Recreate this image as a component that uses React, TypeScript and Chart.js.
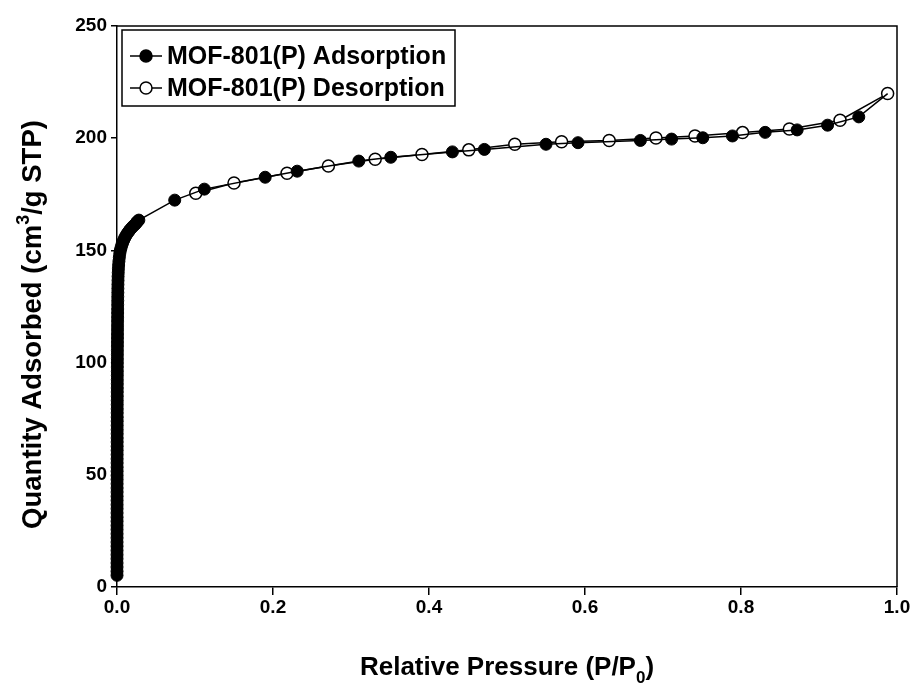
import React, { useEffect, useRef } from "react";
import { Chart, registerables } from "chart.js";

Chart.register(...registerables);

// ---- Data ----
const adsorptionX = [
  0.00002, 0.00003, 0.00003, 0.00004, 0.00004, 0.00005, 0.00005, 0.00006, 0.00006, 0.00007,
  0.00007, 0.00008, 0.00008, 0.00009, 0.0001, 0.0001, 0.00011, 0.00011, 0.00012, 0.00012,
  0.00013, 0.00013, 0.00014, 0.00015, 0.00015, 0.00016, 0.00017, 0.00017, 0.00018, 0.00019,
  0.0002, 0.00021, 0.00021, 0.00022, 0.00023, 0.00024, 0.00025, 0.00026, 0.00027, 0.00028,
  0.00029, 0.0003, 0.00031, 0.00033, 0.00034, 0.00035, 0.00037, 0.00038, 0.0004, 0.00042,
  0.00044, 0.00046, 0.00048, 0.0005, 0.00052, 0.00055, 0.00058, 0.00061, 0.00064, 0.00067,
  0.0007, 0.00074, 0.00078, 0.00082, 0.00086, 0.0009, 0.00095, 0.001, 0.00106, 0.00112,
  0.0012, 0.0013, 0.0014, 0.0016, 0.0018, 0.0021, 0.0025, 0.003, 0.0036, 0.0043,
  0.0052, 0.0062, 0.0073, 0.0085, 0.0098, 0.0112, 0.0127, 0.0143, 0.016, 0.0178,
  0.0197, 0.0217, 0.0238, 0.025, 0.0265, 0.028,
  0.074, 0.112, 0.19, 0.231, 0.31, 0.351, 0.43, 0.471, 0.55, 0.591,
  0.671, 0.711, 0.751, 0.789, 0.831, 0.872, 0.911, 0.951, 0.988,
];
const adsorptionY = [
  5.2, 7.0, 8.9, 10.7, 12.6, 14.4, 16.3, 18.2, 20.0, 21.9,
  23.7, 25.6, 27.4, 29.3, 31.1, 33.0, 34.9, 36.7, 38.6, 40.4,
  42.3, 44.1, 46.0, 47.9, 49.7, 51.6, 53.4, 55.3, 57.1, 59.0,
  60.9, 62.7, 64.6, 66.4, 68.3, 70.1, 72.0, 73.9, 75.7, 77.6,
  79.4, 81.3, 83.1, 85.0, 86.9, 88.7, 90.6, 92.4, 94.3, 96.1,
  98.0, 99.9, 101.7, 103.6, 105.4, 107.3, 109.1, 111.0, 112.8, 114.7,
  116.5, 118.4, 120.2, 122.1, 123.9, 125.8, 127.6, 129.4, 131.2, 133.0,
  134.8, 136.6, 138.4, 140.1, 141.8, 143.5, 145.2, 146.9, 148.6, 150.0,
  151.2, 152.4, 153.5, 154.5, 155.5, 156.4, 157.3, 158.1, 158.9, 159.7,
  160.4, 161.1, 161.8, 162.4, 163.0, 163.5,
  172.4, 177.3, 182.6, 185.3, 189.8, 191.5, 193.9, 195.0, 197.3, 198.0,
  199.0, 199.6, 200.2, 201.0, 202.6, 203.7, 205.8, 209.5, 219.9,
];
const desorptionX = [
  0.988, 0.927, 0.862, 0.802, 0.741, 0.691, 0.631, 0.57, 0.51, 0.451,
  0.391, 0.331, 0.271, 0.218, 0.15, 0.101,
];
const desorptionY = [
  219.9, 208.0, 204.1, 202.5, 201.0, 200.1, 199.0, 198.4, 197.3, 194.8,
  192.7, 190.6, 187.6, 184.4, 180.0, 175.5,
];
const seriesNames = ["MOF-801(P) Adsorption", "MOF-801(P) Desorption"];
const xTickValues = [0, 0.2, 0.4, 0.6, 0.8, 1.0];
const yTickValues = [0, 50, 100, 150, 200, 250];
const xTitleParts: [string, string][] = [["Relative Pressure (P/P", "n"], ["0", "sub"], [")", "n"]];
const yTitleParts: [string, string][] = [["Quantity Adsorbed (cm", "n"], ["3", "sup"], ["/g STP)", "n"]];

const FONT = '"Liberation Sans", Arial, sans-serif';

function drawRich(ctx: CanvasRenderingContext2D, parts: [string, string][], cx: number, cy: number, rotate: boolean, size: number) {
  const small = Math.round(size * 0.65);
  ctx.save();
  ctx.translate(cx, cy);
  if (rotate) ctx.rotate(-Math.PI / 2);
  ctx.fillStyle = "#000";
  ctx.textBaseline = "alphabetic";
  ctx.textAlign = "left";
  const widths = parts.map(([t, k]) => {
    ctx.font = `bold ${k === "n" ? size : small}px ${FONT}`;
    return ctx.measureText(t).width;
  });
  const total = widths.reduce((a, b) => a + b, 0);
  let x = -total / 2;
  const base = size * 0.36;
  parts.forEach(([t, k], i) => {
    ctx.font = `bold ${k === "n" ? size : small}px ${FONT}`;
    let dy = 0;
    if (k === "sup") dy = -size * 0.42;
    if (k === "sub") dy = size * 0.28;
    ctx.fillText(t, x, base + dy);
    x += widths[i];
  });
  ctx.restore();
}

const decorPlugin = {
  id: "decor",
  afterDraw(chart: any) {
    const ctx: CanvasRenderingContext2D = chart.ctx;
    const a = chart.chartArea;
    ctx.save();
    // top & right frame
    ctx.strokeStyle = "#000";
    ctx.lineWidth = 1.5;
    ctx.beginPath();
    ctx.moveTo(a.left, a.top);
    ctx.lineTo(a.right, a.top);
    ctx.lineTo(a.right, a.bottom);
    ctx.stroke();

    // legend
    const lx = a.left + 5;
    const ly = a.top + 4;
    const lw = 333;
    const lh = 76;
    ctx.fillStyle = "#fff";
    ctx.fillRect(lx, ly, lw, lh);
    ctx.strokeRect(lx, ly, lw, lh);
    const rows = [ly + 26, ly + 58];
    rows.forEach((ry, i) => {
      ctx.beginPath();
      ctx.lineWidth = 1.5;
      ctx.moveTo(lx + 8, ry);
      ctx.lineTo(lx + 40, ry);
      ctx.stroke();
      ctx.beginPath();
      ctx.arc(lx + 24, ry, 6, 0, Math.PI * 2);
      ctx.fillStyle = i === 0 ? "#000" : "#fff";
      ctx.fill();
      ctx.stroke();
      ctx.fillStyle = "#000";
      ctx.font = `bold 25px ${FONT}`;
      ctx.textAlign = "left";
      ctx.textBaseline = "middle";
      ctx.fillText(seriesNames[i], lx + 45, ry + 1);
    });
    ctx.restore();

    // axis titles
    drawRich(ctx, xTitleParts, (a.left + a.right) / 2, 666, false, 26);
    drawRich(ctx, yTitleParts, 31, (a.top + a.bottom) / 2 + 18, true, 27.5);
  },
};

export default function App() {
  const ref = useRef<HTMLCanvasElement | null>(null);
  useEffect(() => {
    if (!ref.current) return;
    const lastAds = adsorptionX.length - 1;
    const chart = new Chart(ref.current, {
      type: "scatter",
      data: {
        datasets: [
          {
            label: seriesNames[0],
            data: adsorptionX.map((x, i) => ({ x, y: adsorptionY[i] })),
            showLine: true,
            borderColor: "#000",
            borderWidth: 1.5,
            backgroundColor: "#000",
            pointBackgroundColor: "#000",
            pointBorderColor: "#000",
            pointBorderWidth: 1,
            pointRadius: (c: any) => (c.dataIndex === lastAds ? 0 : 6),
            tension: 0,
            clip: false as any,
          },
          {
            label: seriesNames[1],
            data: desorptionX.map((x, i) => ({ x, y: desorptionY[i] })),
            showLine: true,
            borderColor: "#000",
            borderWidth: 1.5,
            backgroundColor: "#fff",
            pointBackgroundColor: "#fff",
            pointBorderColor: "#000",
            pointBorderWidth: 1.5,
            pointRadius: 6,
            tension: 0,
            clip: false as any,
          },
        ],
      },
      options: {
        animation: false,
        responsive: false,
        events: [],
        layout: { padding: { left: 0, right: 20, top: 26, bottom: 0 } },
        plugins: { legend: { display: false }, tooltip: { enabled: false }, title: { display: false } },
        scales: {
          x: {
            type: "linear",
            min: 0,
            max: 1,
            afterFit: (s: any) => { s.height = 97; },
            afterBuildTicks: (s: any) => { s.ticks = xTickValues.map((v) => ({ value: v })); },
            ticks: {
              color: "#000",
              font: { family: FONT, size: 19, weight: "bold" },
              padding: 1,
              maxRotation: 0,
              callback: (v: any) => Number(v).toFixed(1),
            },
            grid: { drawOnChartArea: false, drawTicks: true, tickLength: 8, color: "#000", lineWidth: 1.5 },
            border: { display: true, color: "#000", width: 1.5 },
          },
          y: {
            type: "linear",
            min: 0,
            max: 250,
            afterFit: (s: any) => { s.width = 117; },
            afterBuildTicks: (s: any) => { s.ticks = yTickValues.map((v) => ({ value: v })); },
            ticks: {
              color: "#000",
              font: { family: FONT, size: 19, weight: "bold" },
              padding: 4,
              callback: (v: any) => String(v),
            },
            grid: { drawOnChartArea: false, drawTicks: true, tickLength: 6, color: "#000", lineWidth: 1.5 },
            border: { display: true, color: "#000", width: 1.5 },
          },
        },
      },
      plugins: [decorPlugin],
    } as any);
    return () => chart.destroy();
  }, []);
  return (
    <div style={{ position: "absolute", left: 0, top: 0, width: 917, height: 684, background: "#fff" }}>
      <canvas ref={ref} width={917} height={684} style={{ display: "block", width: 917, height: 684 }} />
    </div>
  );
}
